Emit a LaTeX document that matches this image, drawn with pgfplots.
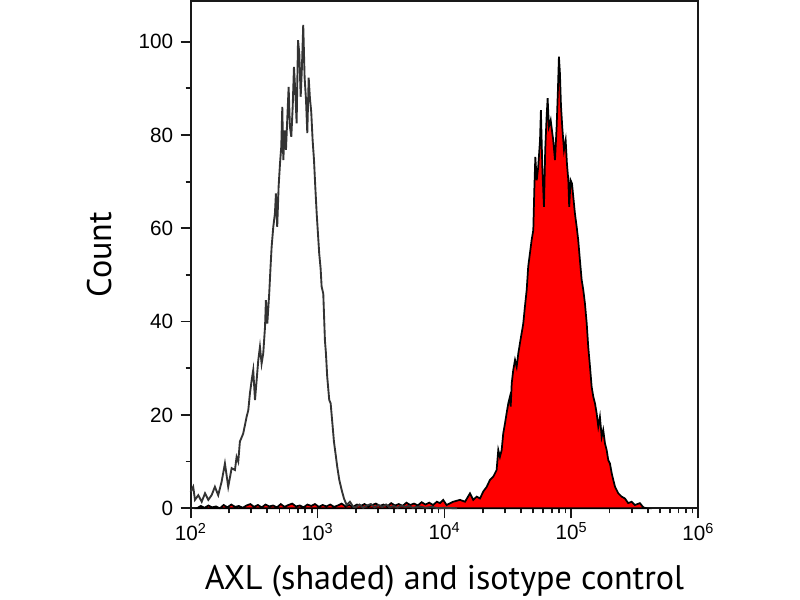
\documentclass[border=0pt]{standalone}
\usepackage{pgfplots}
\pgfplotsset{compat=1.18}
\usepackage{pgfplotstable}
\usepackage{fontspec}
\setmainfont{Liberation Sans}
\newfontfamily\labelfont{PT Sans}

\pgfplotstableread{
e v
2.000 3.5
2.020 4.6
2.034 1.8
2.060 2.8
2.087 1.4
2.113 3.2
2.139 1.8
2.165 2.8
2.191 4.6
2.217 2.8
2.244 5.7
2.270 9.6
2.296 4.6
2.323 8.6
2.349 8.2
2.362 11
2.375 10
2.388 14.3
2.414 16
2.441 19.6
2.454 21
2.467 24.6
2.481 27.5
2.493 29.6
2.507 23.2
2.520 27.5
2.533 31.8
2.546 34.6
2.559 31
2.572 33.2
2.586 38.9
2.593 44.6
2.604 39.6
2.619 46
2.630 52
2.638 56
2.651 60.3
2.664 63.2
2.672 67.5
2.682 60.3
2.693 68.9
2.704 73.9
2.714 77.5
2.722 86
2.730 74.6
2.741 81
2.751 76.8
2.761 83.2
2.772 90.3
2.782 81.8
2.793 79.6
2.804 86
2.814 94.6
2.824 89.6
2.835 82.5
2.846 100.3
2.856 97.5
2.867 88.2
2.877 94.6
2.887 103.6
2.898 92.3
2.909 87.5
2.919 80.4
2.930 92.3
2.940 87.8
2.950 85
2.961 78.9
2.972 74.6
2.982 68.9
2.993 63.2
3.003 58.9
3.013 54.6
3.024 51.4
3.032 47.5
3.045 46
3.058 36
3.066 33.2
3.076 28.2
3.092 23.2
3.103 22.5
3.119 17.5
3.129 14.3
3.145 11
3.155 8.9
3.171 6.1
3.190 3.9
3.208 2.1
3.229 0.7
3.255 1.4
3.281 0.3
3.300 0.2
3.330 0.8
3.360 0.1
3.390 0.6
3.420 0.9
3.450 0.2
3.480 0.7
3.510 0.3
3.540 0.8
3.570 0.2
3.600 0.5
3.630 0.1
3.660 0.6
3.690 0.3
3.720 0.5
3.750 0.1
3.800 0.4
3.850 0.1
3.900 0.3
3.950 0.0
4.000 0.1
4.100 0.0
}\isotype

\pgfplotstableread{
e v
2.050 0
2.080 0.5
2.110 0.1
2.140 0.6
2.170 0.2
2.200 0.4
2.230 0.0
2.260 0.7
2.290 0.2
2.320 0.8
2.350 0.3
2.380 0.5
2.410 0.1
2.440 0.6
2.470 0.9
2.500 0.3
2.530 0.7
2.560 0.2
2.590 0.8
2.620 0.4
2.650 0.6
2.680 0.2
2.710 0.9
2.740 0.3
2.770 0.7
2.800 1.0
2.830 0.4
2.860 0.6
2.890 0.2
2.920 0.8
2.950 0.5
2.980 0.9
3.010 0.3
3.040 0.7
3.070 0.4
3.100 0.8
3.130 0.3
3.160 0.6
3.190 1.0
3.220 0.4
3.250 0.7
3.280 0.3
3.310 0.8
3.340 0.5
3.370 0.9
3.400 0.4
3.430 0.7
3.460 1.0
3.490 0.5
3.520 0.8
3.550 0.4
3.580 1.1
3.610 0.6
3.640 0.9
3.670 0.5
3.700 1.2
3.730 0.7
3.760 1.0
3.790 0.6
3.820 1.3
3.850 0.8
3.880 1.2
3.910 0.7
3.940 1.4
3.965 1.1
3.990 1.8
4.017 0.7
4.069 1.4
4.122 1.8
4.162 1.4
4.201 3.2
4.227 1.8
4.254 2.5
4.280 2.1
4.306 3.6
4.333 4.6
4.359 6.1
4.385 6.8
4.411 8.2
4.424 12.5
4.437 11
4.451 12.5
4.463 16
4.477 18.2
4.490 20.4
4.503 22.5
4.516 23.9
4.522 21.8
4.530 26.8
4.542 29.6
4.556 31.8
4.569 30.3
4.582 33.2
4.595 35.4
4.608 37.5
4.621 39.6
4.634 43.2
4.648 46.8
4.660 51.8
4.687 57.5
4.700 59.6
4.708 68.2
4.716 75.3
4.727 70.3
4.739 73.2
4.753 78.9
4.760 85.3
4.771 73.2
4.784 64.6
4.794 76.8
4.805 83.9
4.813 87.9
4.823 81.8
4.837 83.2
4.847 81
4.857 78.9
4.871 74.6
4.884 81.8
4.894 89.6
4.902 96.8
4.910 93.2
4.918 86.4
4.928 81.8
4.942 76.8
4.955 78.9
4.965 73.9
4.976 70.3
4.983 64.6
4.994 70.3
5.005 69.6
5.015 66.8
5.028 63.2
5.042 60.3
5.054 57.5
5.068 53
5.081 49
5.094 46.8
5.107 43.9
5.121 39.6
5.133 34.6
5.147 30.3
5.160 26
5.173 23.9
5.186 22.5
5.199 20.4
5.212 17.5
5.225 19.6
5.239 15.3
5.251 16.8
5.265 13.9
5.278 12.5
5.291 10.3
5.304 9.6
5.318 7.5
5.330 6.1
5.344 4.6
5.370 3.2
5.396 2.5
5.422 2.1
5.448 1.1
5.475 1.4
5.501 0.7
5.540 1.1
5.567 0.2
5.590 0
}\axl

\begin{document}
\begin{tikzpicture}
\path[use as bounding box] (0,0) rectangle (600pt,450pt);
\begin{axis}[
  at={(143pt,68.8pt)}, anchor=south west,
  scale only axis, width=380.7pt, height=380.4pt,
  xmin=2, xmax=6, ymin=0, ymax=108.7,
  axis line style={line width=1.4pt, color=black!90},
  tick align=outside,
  xtick pos=bottom, ytick pos=left,
  major tick length=7.5pt, minor tick length=3.75pt,
  every tick/.style={line width=1.3pt, color=black!90},
  xtick={2,3,4,5,6},
  xticklabels={10\textsuperscript{2},10\textsuperscript{3},10\textsuperscript{4},10\textsuperscript{5},10\textsuperscript{6}},
  minor xtick={2.301,2.477,2.602,2.699,2.778,2.845,2.903,2.954,
               3.301,3.477,3.602,3.699,3.778,3.845,3.903,3.954,
               4.301,4.477,4.602,4.699,4.778,4.845,4.903,4.954,
               5.301,5.477,5.602,5.699,5.778,5.845,5.903,5.954},
  ytick={0,20,40,60,80,100},
  yticklabels={0,20,40,60,80,100},
  minor ytick={10,30,50,70,90},
  ticklabel style={font=\fontsize{15.5}{18}\selectfont},
  yticklabel style={anchor=east, text width=30pt, align=right, inner sep=0pt, xshift=-5.5pt},
  xlabel={AXL (shaded) and isotype control},
  ylabel={Count},
  label style={font=\labelfont\fontsize{25.6}{30}\selectfont},
  xlabel style={at={(axis description cs:0.5,-0.161)}, anchor=base},
  ylabel style={at={(axis description cs:-0.155,0.5)}, anchor=base},
  clip=false,
]
\addplot[draw=black, line width=1.3pt, fill=red] table[x=e,y=v] {\axl} \closedcycle;
\addplot[draw=black!80, line width=1.4pt] table[x=e,y=v] {\isotype};
\end{axis}
\end{tikzpicture}
\end{document}
